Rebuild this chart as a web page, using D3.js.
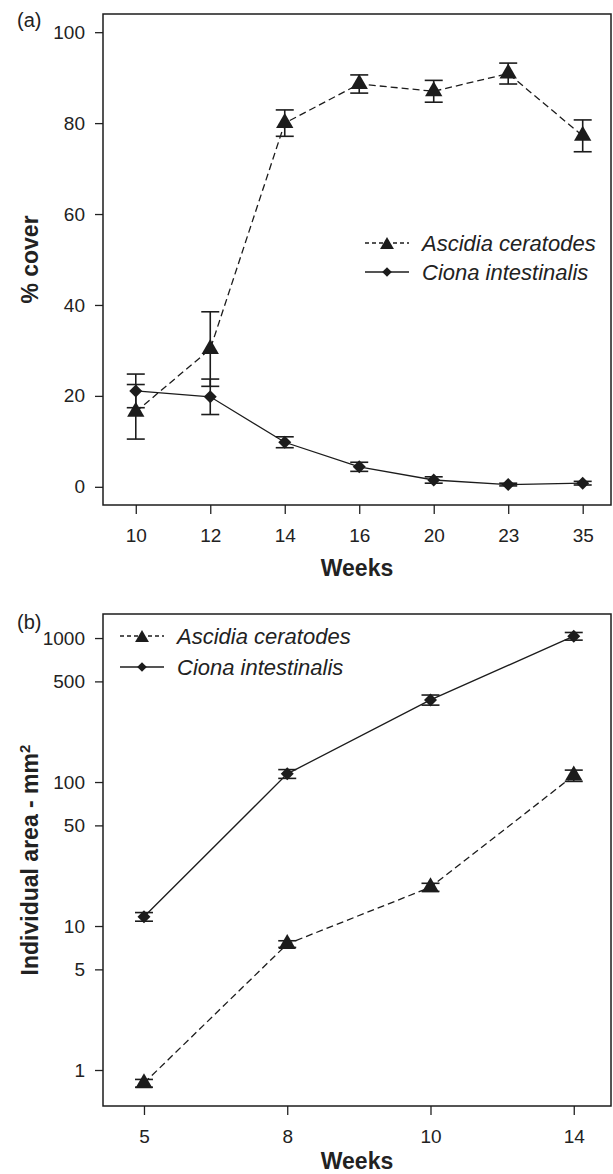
<!DOCTYPE html>
<html>
<head>
<meta charset="utf-8">
<script src="https://cdn.jsdelivr.net/npm/d3@7"></script>
<style>
  body { margin: 0; background: #fff; }
  svg { display: block; font-family: "Liberation Sans", Arial, sans-serif; }
  .axis text { font-size: 19px; fill: #222; }
  .axis line { stroke: #222; stroke-width: 1.3px; }
  .axis path { display: none; }
</style>
</head>
<body>
<div id="chart"></div>
<script>

// panel (a): % cover by week
var weeksA = ["10", "12", "14", "16", "20", "23", "35"];
var ascidiaCover = [16.5, 30.3, 80.0, 88.6, 87.0, 90.9, 77.2];
var ascidiaCoverErr = [6.0, 8.2, 2.9, 2.0, 2.4, 2.3, 3.5];
var cionaCover = [21.1, 19.8, 9.8, 4.4, 1.5, 0.5, 0.8];
var cionaCoverErr = [3.7, 3.9, 1.2, 1.0, 0.7, 0.3, 0.4];
var coverTicks = [0, 20, 40, 60, 80, 100];

// panel (b): individual area (mm2), log scale
var weeksB = ["5", "8", "10", "14"];
var ascidiaArea = [0.81, 7.5, 18.6, 111];
var ascidiaAreaErr = [0.05, 0.4, 1.2, 10];
var cionaArea = [11.6, 114, 372, 1030];
var cionaAreaErr = [0.8, 8, 30, 63];
var areaTicks = [1, 5, 10, 50, 100, 500, 1000];

var seriesNames = ["Ascidia ceratodes", "Ciona intestinalis"];

var W = 613, H = 1174;
var ink = "#1c1c1c";

var svg = d3.select("#chart").append("svg")
    .attr("width", W)
    .attr("height", H);

//marker shapes, R style (triangle sits on its circumcentre)
function triPath(r) {
    var hw = r * Math.sqrt(3) / 2;
    return "M0," + (-r) + "L" + hw + "," + (r / 2) + "L" + (-hw) + "," + (r / 2) + "Z";
}
function diaPath(r) {
    return "M0," + (-r) + "L" + r + ",0L0," + r + "L" + (-r) + ",0Z";
}

function drawPanel(opt) {
    var g = svg.append("g");
    var x = opt.x, y = opt.y;
    var idx = d3.range(opt.weeks.length);

    //axes
    g.append("g")
        .attr("class", "axis")
        .attr("transform", "translate(" + x.range()[0] + ",0)")
        .call(d3.axisLeft(y).tickValues(opt.yTicks)
            .tickFormat(d3.format("d")).tickSize(8).tickPadding(10));

    g.append("g")
        .attr("class", "axis")
        .attr("transform", "translate(0," + y.range()[0] + ")")
        .call(d3.axisBottom(x).tickValues(idx)
            .tickFormat(function(i){ return opt.weeks[i]; })
            .tickSize(9).tickPadding(15));

    //series: lines, error bars, markers
    opt.series.forEach(function(s) {
        var pts = idx.map(function(i){ return {i: i, v: s.values[i], e: s.err[i]}; });

        g.append("path")
            .datum(pts)
            .attr("fill", "none")
            .attr("stroke", ink)
            .attr("stroke-width", 1.3)
            .attr("stroke-dasharray", s.dash)
            .attr("d", d3.line()
                .x(function(d){ return x(d.i); })
                .y(function(d){ return y(d.v); }));

        var eb = g.selectAll(null).data(pts).enter().append("g")
            .attr("stroke", ink)
            .attr("stroke-width", 1.6);
        eb.append("line")
            .attr("x1", function(d){ return x(d.i); })
            .attr("x2", function(d){ return x(d.i); })
            .attr("y1", function(d){ return y(d.v - d.e); })
            .attr("y2", function(d){ return y(d.v + d.e); });
        [-1, 1].forEach(function(sign) {
            eb.append("line")
                .attr("x1", function(d){ return x(d.i) - 9; })
                .attr("x2", function(d){ return x(d.i) + 9; })
                .attr("y1", function(d){ return y(d.v + sign * d.e); })
                .attr("y2", function(d){ return y(d.v + sign * d.e); });
        });

        g.selectAll(null).data(pts).enter().append("path")
            .attr("d", s.shape)
            .attr("fill", ink)
            .attr("transform", function(d){ return "translate(" + x(d.i) + "," + y(d.v) + ")"; });
    });

    //frame
    g.append("rect")
        .attr("x", x.range()[0])
        .attr("y", y.range()[1])
        .attr("width", x.range()[1] - x.range()[0])
        .attr("height", y.range()[0] - y.range()[1])
        .attr("fill", "none")
        .attr("stroke", ink)
        .attr("stroke-width", 1.5);

    //titles
    g.append("text")
        .attr("x", (x.range()[0] + x.range()[1]) / 2)
        .attr("y", y.range()[0] + opt.weeksDy)
        .attr("text-anchor", "middle")
        .style("font-size", "23px")
        .style("font-weight", "bold")
        .attr("fill", "#222")
        .text("Weeks");

    var yt = g.append("text")
        .attr("transform", "translate(38," + (y.range()[0] + y.range()[1]) / 2 + ") rotate(-90)")
        .attr("text-anchor", "middle")
        .style("font-size", "23px")
        .style("font-weight", "bold")
        .attr("fill", "#222");
    yt.text(opt.yTitle);
    if (opt.ySup) yt.append("tspan").attr("baseline-shift", "super")
        .style("font-size", "15px").text(opt.ySup);

    g.append("text")
        .attr("x", 17)
        .attr("y", y.range()[1] + opt.tagDy)
        .style("font-size", "20px")
        .attr("fill", "#222")
        .text(opt.tag);

    //legend
    var lg = g.append("g")
        .attr("transform", "translate(" + opt.legend[0] + "," + opt.legend[1] + ")");
    opt.series.forEach(function(s, k) {
        var row = lg.append("g").attr("transform", "translate(0," + k * opt.legendGap + ")");
        row.append("line")
            .attr("x1", 0).attr("x2", 44)
            .attr("stroke", ink)
            .attr("stroke-width", 1.3)
            .attr("stroke-dasharray", s.legendDash);
        row.append("path")
            .attr("d", s.legendShape)
            .attr("fill", ink)
            .attr("transform", "translate(22," + s.legendDy + ")");
        row.append("text")
            .attr("x", 57)
            .attr("dy", "0.35em")
            .style("font-size", "22px")
            .style("font-style", "italic")
            .attr("fill", "#222")
            .text(s.name);
    });
}

var seriesStyle = [
    {dash: "7,4", legendDash: "4,3", shape: triPath(10), legendShape: triPath(8), legendDy: 2},
    {dash: null, legendDash: null, shape: diaPath(6.5), legendShape: diaPath(4.8), legendDy: 0}
];

drawPanel({
    weeks: weeksA,
    x: d3.scaleLinear().domain([-0.44, 6.38]).range([103, 611]),
    y: d3.scaleLinear().domain([-4, 104]).range([505, 14]),
    yTicks: coverTicks,
    yTitle: "% cover",
    tag: "(a)",
    tagDy: 13,
    weeksDy: 71,
    legend: [365, 243],
    legendGap: 29,
    series: [
        Object.assign({name: seriesNames[0], values: ascidiaCover, err: ascidiaCoverErr}, seriesStyle[0]),
        Object.assign({name: seriesNames[1], values: cionaCover, err: cionaCoverErr}, seriesStyle[1])
    ]
});

drawPanel({
    weeks: weeksB,
    x: d3.scaleLinear().domain([-0.286, 3.26]).range([103, 611]),
    y: d3.scaleLog().domain([Math.pow(10, -0.25), Math.pow(10, 3.167)]).range([1106, 614]),
    yTicks: areaTicks,
    yTitle: "Individual area - mm",
    ySup: "2",
    tag: "(b)",
    tagDy: 15,
    weeksDy: 63,
    legend: [120, 636],
    legendGap: 31,
    series: [
        Object.assign({name: seriesNames[0], values: ascidiaArea, err: ascidiaAreaErr}, seriesStyle[0]),
        Object.assign({name: seriesNames[1], values: cionaArea, err: cionaAreaErr}, seriesStyle[1])
    ]
});

</script>
</body>
</html>
